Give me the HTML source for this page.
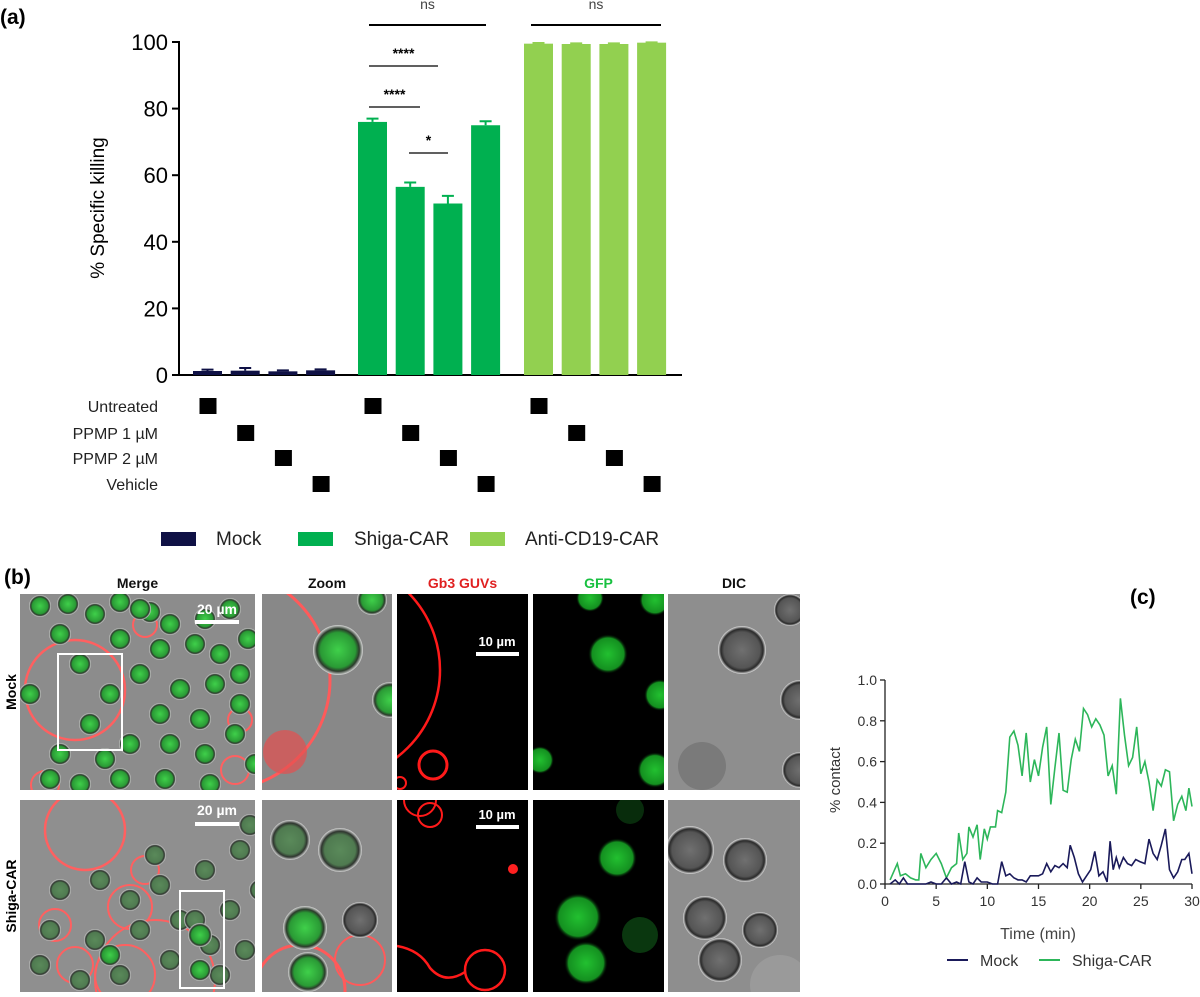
<!DOCTYPE html>
<html><head><meta charset="utf-8">
<style>
html,body{margin:0;padding:0;background:#fff;}
body{width:1200px;height:992px;overflow:hidden;font-family:"Liberation Sans",sans-serif;}
svg text{font-family:"Liberation Sans",sans-serif;}
</style></head>
<body>
<svg id="fig" width="1200" height="992" viewBox="0 0 1200 992" xmlns="http://www.w3.org/2000/svg">
<defs>
<radialGradient id="gcell" cx="50%" cy="50%" r="50%"><stop offset="0%" stop-color="#3fd04a"/><stop offset="70%" stop-color="#2a9a35"/><stop offset="85%" stop-color="#2b3a2b"/><stop offset="100%" stop-color="#d8d8d8"/></radialGradient>
<radialGradient id="gcell2" cx="50%" cy="50%" r="50%"><stop offset="0%" stop-color="#5a8a5a"/><stop offset="70%" stop-color="#4f7a50"/><stop offset="85%" stop-color="#2f352f"/><stop offset="100%" stop-color="#d8d8d8"/></radialGradient>
<radialGradient id="dcell" cx="50%" cy="50%" r="50%"><stop offset="0%" stop-color="#707070"/><stop offset="75%" stop-color="#555"/><stop offset="88%" stop-color="#2a2a2a"/><stop offset="100%" stop-color="#e0e0e0"/></radialGradient>
<radialGradient id="fgfp" cx="50%" cy="50%" r="50%"><stop offset="0%" stop-color="#22c030"/><stop offset="80%" stop-color="#149020"/><stop offset="100%" stop-color="#000" stop-opacity="0"/></radialGradient>
</defs>
<g id="panelA"></g>
<g id="panelB"></g>
<g id="panelC"></g>
</svg>
<script>
// ===== Panel A data =====
const groups = ["Mock","Shiga-CAR","Anti-CD19-CAR"];
const conditions = ["Untreated","PPMP 1 µM","PPMP 2 µM","Vehicle"];
const mockValues = [1.2, 1.3, 1.1, 1.4];
const mockErrors = [0.4, 0.8, 0.3, 0.3];
const shigaValues = [76.0, 56.5, 51.5, 75.0];
const shigaErrors = [1.0, 1.3, 2.3, 1.2];
const antiValues = [99.5, 99.4, 99.4, 99.8];
const antiErrors = [0.2, 0.2, 0.2, 0.1];
const yTicksA = [0, 20, 40, 60, 80, 100];

// ===== Panel C data =====
const shigaTime = [0.5,1.2,1.5,2,2.5,3,3.3,3.5,4,4.5,5,5.5,6,6.5,7,7.2,7.6,8,8.2,8.6,9,9.3,9.7,10,10.3,10.8,11,11.4,11.8,12.2,12.6,13,13.4,13.8,14.2,14.6,15,15.4,15.8,16.2,16.6,17,17.4,17.8,18.2,18.6,19,19.4,19.8,20.2,20.6,21,21.4,21.8,22.2,22.6,23,23.4,23.8,24.2,24.6,25,25.4,25.8,26.2,26.6,27,27.4,27.8,28.2,28.6,29,29.4,29.7,30];
const shigaContact = [0.02,0.10,0.04,0.05,0.03,0.02,0.02,0.15,0.08,0.12,0.15,0.10,0.03,0.08,0.10,0.25,0.12,0.15,0.28,0.23,0.29,0.12,0.27,0.22,0.28,0.28,0.36,0.35,0.45,0.72,0.75,0.68,0.53,0.74,0.50,0.61,0.53,0.67,0.77,0.39,0.57,0.74,0.46,0.45,0.61,0.71,0.65,0.86,0.83,0.77,0.81,0.78,0.73,0.53,0.58,0.44,0.91,0.73,0.58,0.62,0.77,0.54,0.60,0.50,0.36,0.51,0.48,0.56,0.55,0.31,0.39,0.43,0.36,0.47,0.38];
const mockTime = [0.5,1,1.4,1.8,2.2,3,4,4.5,5,5.5,6,6.5,7,7.4,7.8,8.2,8.6,9,9.4,10,10.5,11,11.4,11.8,12.2,12.6,13,13.4,13.8,14.2,14.6,15,15.4,15.8,16.2,16.6,17,17.4,17.8,18.1,18.5,18.9,19.3,19.7,20.1,20.5,20.9,21.3,21.7,22.0,22.3,22.6,22.9,23.3,23.7,24.1,24.5,24.9,25.4,25.8,26.2,26.6,27.0,27.4,27.8,28.2,28.6,29.0,29.3,29.7,30];
const mockContact = [0,0.02,0,0.03,0,0,0,0.01,0,0,0.03,0,0.01,0,0.11,0.01,0,0.03,0.01,0.01,0,0,0.11,0.04,0.05,0.03,0.02,0.02,0.01,0.04,0.04,0.04,0.05,0.10,0.06,0.09,0.08,0.10,0.08,0.19,0.13,0.05,0.01,0.04,0.07,0.16,0.04,0.06,0.01,0.21,0.07,0.13,0.08,0.13,0.10,0.09,0.12,0.11,0.10,0.22,0.15,0.12,0.19,0.27,0.07,0.03,0.06,0.12,0.12,0.15,0.05];
const xTicksC = [0,5,10,15,20,25,30];
const yTicksC = [0.0,0.2,0.4,0.6,0.8,1.0];

const NS = "http://www.w3.org/2000/svg";
function mk(parent, tag, attrs, text){
  const e = document.createElementNS(NS, tag);
  for (const k in attrs) e.setAttribute(k, attrs[k]);
  if (text !== undefined) e.textContent = text;
  parent.appendChild(e);
  return e;
}

// ===== Panel A =====
(function(){
  const g = document.getElementById('panelA');
  const X0 = 179, X1 = 682, Y0 = 375, Y100 = 42;
  const y = v => Y0 - (v/100)*(Y0-Y100);
  const colors = ["#0f1145","#00b050","#92d050"];
  const groupStart = [193, 358, 524];
  const step = 37.7, bw = 29;
  const barX = (gi, ci) => groupStart[gi] + ci*step;
  let t = mk(g,'text',{x:0,y:24,'font-size':21,'font-weight':'bold'},'(a)');
   
  let ax = mk(g,'line',{x1:X0,y1:Y100-1,x2:X0,y2:Y0+1,stroke:'#000','stroke-width':2});
   
  let xx = mk(g,'line',{x1:X0-1,y1:Y0,x2:X1,y2:Y0,stroke:'#000','stroke-width':2});
   
  yTicksA.forEach(v=>{
    let l = mk(g,'line',{x1:X0-7,y1:y(v),x2:X0,y2:y(v),stroke:'#000','stroke-width':2});
     
    let tt = mk(g,'text',{x:X0-11,y:y(v)+8,'font-size':22,'text-anchor':'end'},String(v));
     
  });
  let yt = mk(g,'text',{x:0,y:0,'font-size':19,'text-anchor':'middle',transform:'translate(104,208) rotate(-90)'},'% Specific killing');
   
  const series = [[mockValues,mockErrors],[shigaValues,shigaErrors],[antiValues,antiErrors]];
  series.forEach((s,gi)=>{
    s[0].forEach((v,ci)=>{
      const bx = barX(gi,ci);
      let r = mk(g,'rect',{x:bx,y:y(v),width:bw,height:Y0-y(v),fill:colors[gi]});
       
      const e = s[1][ci], cx = bx+bw/2;
      let eb = mk(g,'path',{d:`M${cx},${y(v)} V${y(v+e)} M${cx-6},${y(v+e)} H${cx+6}`,stroke:colors[gi],'stroke-width':2,fill:'none'});
       
    });
  });
  const sig = [[369,486,25,'ns',0],[531,661,25,'ns',0],[369,438,66,'****',1],[369,420,107,'****',1],[409,448,153,'*',1]];
  sig.forEach(s=>{
    let l = mk(g,'line',{x1:s[0],y1:s[2],x2:s[1],y2:s[2],stroke:'#000','stroke-width':s[4]?1.3:2});
     
    let tt = mk(g,'text',{x:(s[0]+s[1])/2,y:s[3]==='ns'?s[2]-16:s[2]-8,'font-size':14,'text-anchor':'middle','fill':s[3]==='ns'?'#444':'#000','font-weight':s[3]==='ns'?'normal':'bold'},s[3]);
     
  });
  const rowY = [406,433,458,484];
  conditions.forEach((c,ci)=>{
    let tt = mk(g,'text',{x:158,y:rowY[ci]+6,'font-size':16,'text-anchor':'end',fill:'#222'},c);
     
    for(let gi=0;gi<3;gi++){
      const cx = barX(gi,ci)+bw/2;
      let sq = mk(g,'rect',{x:cx-8,y:rowY[ci]-8,width:17,height:16,fill:'#000'});
       
    }
  });
  const leg = [[161,216],[298,354],[470,525]];
  groups.forEach((n,gi)=>{
    let sw = mk(g,'rect',{x:leg[gi][0],y:532,width:35,height:14,fill:colors[gi]});
     
    let tt = mk(g,'text',{x:leg[gi][1],y:545,'font-size':19,fill:'#222'},n);
     
  });
})();

// ===== Panel B (microscopy, illustrative) =====
(function(){
  let g = document.getElementById('panelB');
  const outer = g;
  let t = mk(g,'text',{x:4,y:584,'font-size':21,'font-weight':'bold'},'(b)');
   
  const cols = [[20,255,'Merge','#111'],[262,392,'Zoom','#111'],[397,528,'Gb3 GUVs','#e02020'],[533,664,'GFP','#18c040'],[668,800,'DIC','#111']];
  cols.forEach(c=>{
    let tt = mk(g,'text',{x:(c[0]+c[1])/2,y:588,'font-size':14,'font-weight':'bold','text-anchor':'middle',fill:c[3]},c[2]);
     
  });
  const rows = [[594,790,'Mock'],[800,992,'Shiga-CAR']];
  rows.forEach(r=>{
    let tt = mk(g,'text',{x:0,y:0,'font-size':14,'font-weight':'bold','text-anchor':'middle',transform:`translate(16,${(r[0]+r[1])/2}) rotate(-90)`},r[2]);
     
  });
  const merge1 = [[20,12],[48,10],[75,20],[100,8],[130,18],[150,30],[185,25],[210,15],[40,40],[100,45],[140,55],[175,50],[200,60],[228,45],[60,70],[120,80],[160,95],[195,90],[220,80],[90,100],[140,120],[180,125],[220,110],[40,160],[70,130],[110,150],[150,150],[185,160],[215,140],[30,185],[60,190],[100,185],[145,185],[190,190],[120,15],[85,165],[235,170],[10,100]];
  const merge2 = [[230,25],[220,50],[185,70],[140,85],[110,100],[80,80],[40,90],[30,130],[75,140],[120,130],[160,120],[210,110],[190,145],[150,160],[100,175],[60,180],[200,175],[175,120],[225,150],[20,165],[135,55],[240,90]];
  function panel(x0,y0,w,h,bg,id){ let r=mk(g,'rect',{x:x0,y:y0,width:w,height:h,fill:bg});   }
  function cell(x,y,r,f){ let c=mk(g,'circle',{cx:x,cy:y,r:r,fill:f});   }
  function ring(x,y,r,col,sw){ let c=mk(g,'circle',{cx:x,cy:y,r:r,fill:'none',stroke:col,'stroke-width':sw||2});   }
  function clip(id,x,y,w,h){ const d=document.querySelector('defs'); const cp=mk(d,'clipPath',{id:id}); mk(cp,'rect',{x:x,y:y,width:w,height:h}); }
  clip('c11',20,594,235,196); clip('c12',262,594,130,196); clip('c13',397,594,131,196); clip('c14',533,594,131,196); clip('c15',668,594,132,196);
  clip('c21',20,800,235,192); clip('c22',262,800,130,192); clip('c23',397,800,131,192); clip('c24',533,800,131,192); clip('c25',668,800,132,192);
  function sub(cid){ const s=mk(outer,'g',{'clip-path':`url(#${cid})`}); g = s; }
  sub('c11'); panel(20,594,235,196,'#8c8c8c','merge-mock-image');
  ring(75,690,50,'#ff6060',2.5); ring(145,625,12,'#ff6060'); ring(235,770,14,'#ff6060'); ring(240,720,12,'#ff6060'); ring(45,785,14,'#ff6060');
  merge1.forEach(p=>cell(20+p[0],594+p[1],11,'url(#gcell)'));
  g=outer; let bx=mk(g,'rect',{x:58,y:654,width:64,height:96,fill:'none',stroke:'#fff','stroke-width':2}); 
  mk(g,'rect',{x:195,y:620,width:44,height:4,fill:'#fff'}); let s1=mk(g,'text',{x:217,y:614,'font-size':14,'font-weight':'bold','text-anchor':'middle',fill:'#fff'},'20 µm'); 
  sub('c12'); panel(262,594,130,196,'#888','zoom-mock-image'); ring(220,680,110,'#ff5a5a',3); cell(285,752,22,'rgba(230,80,80,0.7)'); cell(338,650,25,'url(#gcell)'); cell(390,700,18,'url(#gcell)'); cell(372,600,15,'url(#gcell)');
  sub('c13'); panel(397,594,131,196,'#000','gb3-mock-image'); ring(330,670,110,'#ff1a1a',2.5); ring(433,765,14,'#ff1a1a',3); ring(400,783,6,'#ff1a1a',2);
  sub('c14'); panel(533,594,131,196,'#000','gfp-mock-image'); cell(608,654,20,'url(#fgfp)'); cell(660,695,16,'url(#fgfp)'); cell(655,600,16,'url(#fgfp)'); cell(540,760,14,'url(#fgfp)'); cell(655,770,18,'url(#fgfp)'); cell(590,598,14,'url(#fgfp)');
  sub('c15'); panel(668,594,132,196,'#8e8e8e','dic-mock-image'); cell(742,650,24,'url(#dcell)'); cell(800,700,20,'url(#dcell)'); cell(702,766,24,'#7a7a7a'); cell(790,610,16,'url(#dcell)'); cell(800,770,18,'url(#dcell)');
  g=outer; mk(g,'rect',{x:476,y:652,width:43,height:4,fill:'#fff'}); let s2=mk(g,'text',{x:497,y:646,'font-size':13,'font-weight':'bold','text-anchor':'middle',fill:'#fff'},'10 µm'); 
  sub('c21'); panel(20,800,235,192,'#8f8f8f','merge-shiga-image');
  ring(85,830,40,'#ff6060',2.5); ring(130,907,22,'#ff6060'); ring(125,975,30,'#ff6060'); ring(155,980,60,'#ff6060'); ring(55,925,16,'#ff6060'); ring(75,965,18,'#ff6060'); ring(145,870,14,'#ff6060');
  merge2.forEach(p=>cell(20+p[0],800+p[1],11,'url(#gcell2)'));
  cell(200,935,12,'url(#gcell)'); cell(200,970,11,'url(#gcell)'); cell(110,955,11,'url(#gcell)');
  g=outer; let bx2=mk(g,'rect',{x:180,y:891,width:44,height:97,fill:'none',stroke:'#fff','stroke-width':2}); 
  mk(g,'rect',{x:195,y:822,width:44,height:4,fill:'#fff'}); let s3=mk(g,'text',{x:217,y:815,'font-size':14,'font-weight':'bold','text-anchor':'middle',fill:'#fff'},'20 µm'); 
  sub('c22'); panel(262,800,130,192,'#8a8a8a','zoom-shiga-image'); ring(300,990,45,'#ff5a5a',3); ring(360,960,25,'#ff5a5a',2); cell(305,928,22,'url(#gcell)'); cell(308,972,20,'url(#gcell)'); cell(340,850,22,'url(#gcell2)'); cell(290,840,20,'url(#gcell2)'); cell(360,920,18,'url(#dcell)');
  sub('c23'); panel(397,800,131,192,'#000','gb3-shiga-image'); ring(420,800,16,'#ff1a1a',2); ring(430,815,12,'#ff1a1a',2); ring(485,970,20,'#ff1a1a',2.5); let p=mk(g,'path',{d:'M397,946 Q420,950 430,968 Q445,985 465,972',stroke:'#ff1a1a','stroke-width':2.5,fill:'none'});  cell(513,869,5,'#ff2020');
  sub('c24'); panel(533,800,131,192,'#000','gfp-shiga-image'); cell(617,858,20,'url(#fgfp)'); cell(578,917,24,'url(#fgfp)'); cell(586,963,22,'url(#fgfp)'); cell(640,935,18,'rgba(20,110,30,0.5)'); cell(630,810,14,'rgba(20,110,30,0.4)');
  sub('c25'); panel(668,800,132,192,'#8e8e8e','dic-shiga-image'); cell(690,850,24,'url(#dcell)'); cell(745,860,22,'url(#dcell)'); cell(705,918,22,'url(#dcell)'); cell(720,960,22,'url(#dcell)'); cell(760,930,18,'url(#dcell)'); cell(780,985,30,'#9a9a9a');
  g=outer; mk(g,'rect',{x:476,y:825,width:43,height:4,fill:'#fff'}); let s4=mk(g,'text',{x:497,y:819,'font-size':13,'font-weight':'bold','text-anchor':'middle',fill:'#fff'},'10 µm'); 
})();

// ===== Panel C =====
(function(){
  const g = document.getElementById('panelC');
  const X0=885, X1=1192, Y0=884, Y1=680;
  const x = v => X0 + (v/30)*(X1-X0);
  const y = v => Y0 - v*(Y0-Y1);
  let t = mk(g,'text',{x:1130,y:604,'font-size':21,'font-weight':'bold'},'(c)');
   
  let ya = mk(g,'line',{x1:X0,y1:Y1,x2:X0,y2:Y0,stroke:'#222','stroke-width':1.3});
   
  let xa = mk(g,'line',{x1:X0,y1:Y0,x2:X1,y2:Y0,stroke:'#222','stroke-width':1.3});
   
  yTicksC.forEach(v=>{
    mk(g,'line',{x1:X0-5,y1:y(v),x2:X0,y2:y(v),stroke:'#222','stroke-width':1.3});
    let tt=mk(g,'text',{x:X0-8,y:y(v)+5,'font-size':14,'text-anchor':'end',fill:'#333'},v.toFixed(1));
     
  });
  xTicksC.forEach(v=>{
    mk(g,'line',{x1:x(v),y1:Y0,x2:x(v),y2:Y0+5,stroke:'#222','stroke-width':1.3});
    let tt=mk(g,'text',{x:x(v),y:Y0+22,'font-size':14,'text-anchor':'middle',fill:'#333'},String(v));
     
  });
  let xt=mk(g,'text',{x:1038,y:939,'font-size':16,'text-anchor':'middle',fill:'#444'},'Time (min)');
   
  let yt=mk(g,'text',{x:0,y:0,'font-size':15,'text-anchor':'middle',fill:'#333',transform:'translate(840,780) rotate(-90)'},'% contact');
   
  let lg = mk(g,'path',{d:shigaTime.map((t,i)=>(i?'L':'M')+x(t).toFixed(1)+','+y(shigaContact[i]).toFixed(1)).join(' '),fill:'none',stroke:'#2db65a','stroke-width':1.6});
   
  let lm = mk(g,'path',{d:mockTime.map((t,i)=>(i?'L':'M')+x(t).toFixed(1)+','+y(mockContact[i]).toFixed(1)).join(' '),fill:'none',stroke:'#1a1a5a','stroke-width':1.6});
   
  mk(g,'line',{x1:947,y1:960,x2:968,y2:960,stroke:'#1a1a5a','stroke-width':2});
  let l1=mk(g,'text',{x:980,y:966,'font-size':16,fill:'#333'},'Mock');  
  mk(g,'line',{x1:1039,y1:960,x2:1060,y2:960,stroke:'#2db65a','stroke-width':2});
  let l2=mk(g,'text',{x:1072,y:966,'font-size':16,fill:'#333'},'Shiga-CAR');  
})();
</script>
</body></html>
